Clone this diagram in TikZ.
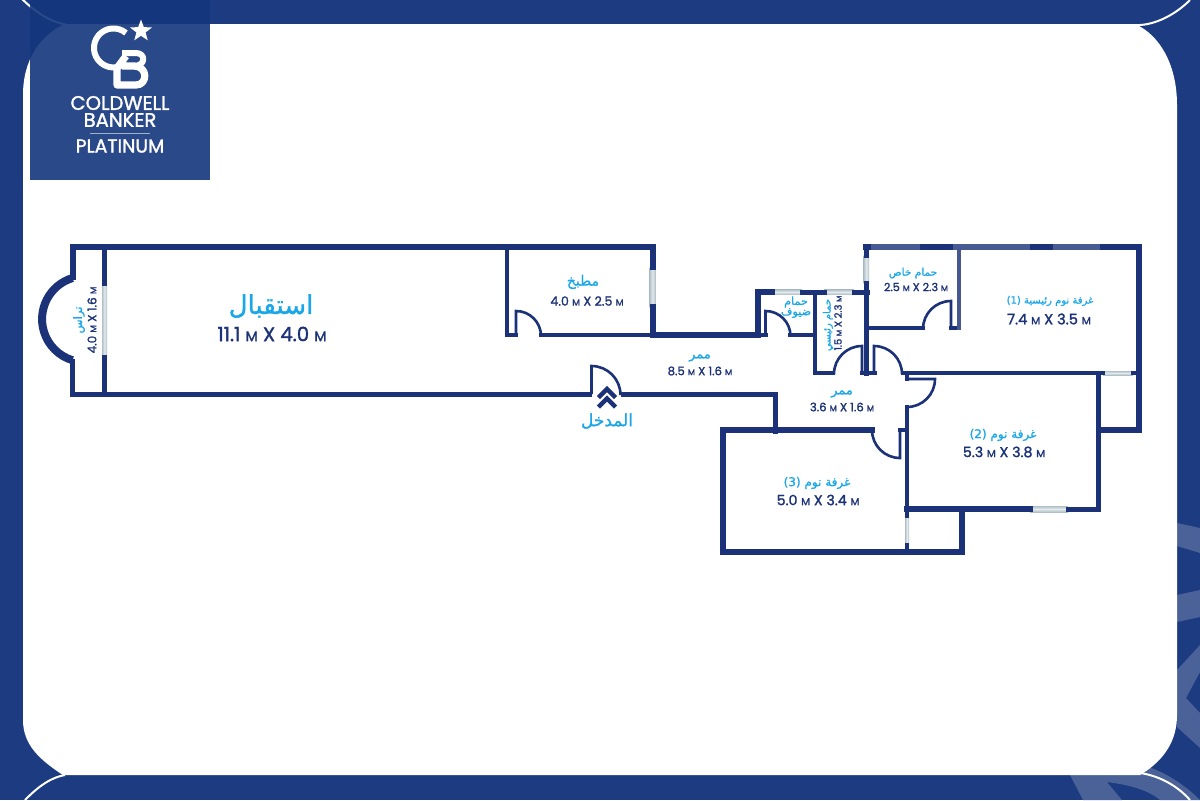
\documentclass[tikz,border=0pt]{standalone}
\usepackage{fontspec}
\setmainfont{Poppins}
\newfontfamily\arabicfont[Script=Arabic,FakeBold=1.0]{DejaVu Sans}
\newfontfamily\sizefont[FakeBold=1.5]{Poppins}
\usetikzlibrary{shapes.geometric}
\TeXXeTstate=1
\definecolor{framecol}{HTML}{1C3B80}
\definecolor{bandcol}{HTML}{4A6298}
\definecolor{logocol}{HTML}{13367D}
\definecolor{wallcol}{HTML}{1C3278}
\definecolor{labelcol}{HTML}{1AA7E8}
\definecolor{panecol}{HTML}{AFC0C8}
\newcommand{\artext}[1]{{\arabicfont\beginR #1\endR}}
\newcommand{\unitm}{{\scalebox{0.72}{M}}}
\newcommand{\sizetext}[2]{{\sizefont #1 \unitm{} X #2 \unitm}}
\tikzset{
    wallthick/.style={draw=wallcol, line width=3pt, line cap=rect},
    wallmid/.style={draw=wallcol, line width=2.5pt, line cap=rect},
    wallthin/.style={draw=wallcol, line width=2pt, line cap=rect},
    doorleaf/.style={draw=wallcol, line width=1.3pt},
    winh/.style={top color=panecol, bottom color=panecol, middle color=panecol!35!white},
    winv/.style={left color=panecol, right color=panecol, middle color=panecol!35!white},
    roomname/.style={text=labelcol, inner sep=0pt},
    roomsize/.style={text=wallcol, inner sep=0pt, font=\fontsize{6}{7}\selectfont},
    logotext/.style={text=white, inner sep=0pt, font=\fontsize{9.8}{10}\selectfont\sizefont}
}
\begin{document}
\begin{tikzpicture}[x=0.5pt,y=-0.5pt]
        \useasboundingbox (0,0) rectangle (1200,800);
        % Frame and watermark bands
        \fill[framecol] (0,0) rectangle (1200,800);
        \fill[bandcol] (1177,523) -- (1200,528) -- (1200,553) -- (1177,546) -- cycle;
        \fill[bandcol] (1177,595) -- (1200,590) -- (1200,617) -- (1177,622) -- cycle;
        \fill[bandcol] (1177,670) -- (1200,645) -- (1200,672) -- (1186,698) -- (1200,713) -- (1200,748) -- (1177,727) -- cycle;
        \fill[bandcol] (1070,775) -- (1083,800) -- (1122,800) -- (1107,782) .. controls (1130,785) and (1148,790) .. (1160,800) -- (1200,800) .. controls (1185,785) and (1165,772) .. (1148,767) -- cycle;
        % White panel
        \fill[white] (65,24) -- (1135,24) .. controls (1160,35) and (1177,65) .. (1177,105) -- (1177,715)
            .. controls (1177,740) and (1165,760) .. (1140,775) -- (63,775)
            .. controls (40,760) and (23,745) .. (23,720) -- (23,95)
            .. controls (23,60) and (40,35) .. (65,24) -- cycle;
        \draw[white, line width=1pt] (1135,25) .. controls (1150,26) and (1172,18) .. (1190,0);
        \draw[white, line width=1pt] (1140,773) .. controls (1155,775) and (1175,783) .. (1190,800);
        \draw[white, line width=1pt] (25,800) .. controls (35,790) and (48,778) .. (65,775);
        \draw[white, line width=1pt] (20,-3) .. controls (35,12) and (50,22) .. (68,25);
        % Logo
        \fill[logocol, fill opacity=0.9] (30,0) rectangle (210,180);
        \draw[white, line width=3pt] (126,33) arc[start angle=-50, end angle=-310, radius=19.5];
        \draw[white, line width=3.6pt, line join=round] (126,56) -- (117,68) -- (117,85) -- (136,85)
            .. controls (148,85) and (148,66) .. (134,66) -- (122,66);
        \draw[white, line width=3pt, line join=round] (122,53) -- (136,53) .. controls (146,53) and (146,66) .. (134,66);
        \node[star, star points=5, star point ratio=2.4, fill=white, inner sep=0pt, minimum size=11.5pt] (logostar) at (141,31) {};
        \node[logotext] (coldwell) at (120,103) {COLDWELL};
        \node[logotext] (banker) at (120,120) {BANKER};
        \draw[white!60!logocol, line width=0.6pt] (90,133.5) -- (150,133.5);
        \node[logotext, font=\fontsize{9.4}{10}\selectfont\sizefont] (platinum) at (120,146) {PLATINUM};
        % Windows
        \fill[winv] (102,283) rectangle (107,357);
        \fill[winv] (649.5,267) rectangle (655.5,307);
        \fill[winh] (772,289.5) rectangle (802,294.5);
        \fill[winh] (824,289.5) rectangle (854,294.5);
        \fill[winv] (863.5,255) rectangle (869,283);
        \fill[winh] (1103,371) rectangle (1133,375);
        \fill[winh] (1030,506) rectangle (1068,512);
        \fill[winv] (905,516) rectangle (909,545);
        % Outer walls
        \draw[wallthick] (72.5,277) -- (72.5,247) -- (652.5,247) -- (652.5,267);
        \draw[wallthick] (652.5,307) -- (652.5,334.5) -- (757.5,334.5) -- (757.5,292) -- (772,292);
        \draw[wallmid] (72.5,361) -- (72.5,394.5) -- (589,394.5);
        \draw[wallmid] (623,394.5) -- (775,394.5) -- (775,431);
        \draw[wallthick, line width=4pt, line cap=butt] (72.5,278) arc[start angle=253, end angle=107, radius=43];
        \draw[wallthick] (866,247) -- (1138.5,247) -- (1138.5,430) -- (1098.5,430);
        \draw[wallthick] (872,430) -- (723,430) -- (723,552) -- (962,552) -- (962,509);
        % Lighter stretches of the top wall
        \fill[wallcol!80!white] (871,244) rectangle (920,250);
        \fill[wallcol!80!white] (953,244) rectangle (1030,250);
        \fill[wallcol!80!white] (1053,244) rectangle (1100,250);
        % Inner walls
        \draw[wallmid] (104.5,250) -- (104.5,283);
        \draw[wallmid] (104.5,357) -- (104.5,394);
        \draw[wallthin] (507,247) -- (507,335) -- (516,335);
        \draw[wallthin] (541,335) -- (652,335);
        \draw[wallthin] (757,335) -- (766,335);
        \draw[wallthin] (790,335) -- (815,335);
        \draw[wallmid] (802,292) -- (824,292);
        \draw[wallmid] (854,292) -- (867,292);
        \draw[wallthin] (815,292) -- (815,373) -- (833,373);
        \draw[wallthin] (862,373) -- (875,373);
        \draw[wallmid] (866.5,247) -- (866.5,255);
        \draw[wallmid] (866.5,283) -- (866.5,373);
        \draw[wallthin] (869,328) -- (923,328);
        \draw[wallthin] (951,328) -- (959,328);
        \draw[wallthin, draw=wallcol!82!white] (959,250) -- (959,328);
        \draw[wallthin] (903,373) -- (1103,373);
        \draw[wallthin] (1133,373) -- (1136,373);
        \draw[wallmid] (1098.5,373) -- (1098.5,509) -- (1068,509);
        \draw[wallthick] (1030,509) -- (907,509);
        \draw[wallthin] (907,373) -- (907,379);
        \draw[wallthin] (907,407) -- (907,516);
        \draw[wallthin] (907,545) -- (907,552);
        \draw[wallthin] (900,430) -- (907,430);
        % Doors
        \draw[doorleaf] (516,335) -- (516,311) arc[start angle=-90, end angle=0, radius=25];
        \draw[doorleaf] (765.5,335) -- (765.5,311) arc[start angle=-90, end angle=0, radius=25];
        \draw[doorleaf] (591.5,394) -- (591.5,366) arc[start angle=-90, end angle=0, radius=29];
        \draw[doorleaf] (862,373) -- (862,346) arc[start angle=-90, end angle=-180, radius=28];
        \draw[doorleaf] (874,373) -- (874,346) arc[start angle=-90, end angle=0, radius=28];
        \draw[doorleaf] (951,328) -- (951,301) arc[start angle=-90, end angle=-180, radius=28];
        \draw[doorleaf] (907,379) -- (935,379) arc[start angle=0, end angle=90, radius=28];
        \draw[doorleaf] (900,431) -- (900,458) arc[start angle=90, end angle=180, radius=28];
        % Entrance mark
        \draw[wallcol, line width=2.2pt] (598.5,397.5) -- (607,389) -- (615.5,397.5);
        \draw[wallcol, line width=2.2pt] (598.5,407) -- (607,398.5) -- (615.5,407);
        \node[roomname, font=\fontsize{8.5}{9}\selectfont] (entry) at (607,421) {\artext{المدخل}};
        % Room labels
        \node[roomname, font=\fontsize{13}{14}\selectfont] (receptionname) at (271,306) {\artext{استقبال}};
        \node[roomsize, font=\fontsize{9.8}{10}\selectfont] (receptionsize) at (272,334) {\sizetext{11.1}{4.0}};
        \node[roomname, rotate=90, font=\fontsize{5.8}{6}\selectfont] (terracename) at (79,320) {\artext{تراس}};
        \node[roomsize, rotate=90] (terracesize) at (92,320) {\sizetext{4.0}{1.6}};
        \node[roomname, font=\fontsize{7}{8}\selectfont] (kitchenname) at (583,282) {\artext{مطبخ}};
        \node[roomsize, font=\fontsize{6.3}{7}\selectfont] (kitchensize) at (587,301) {\sizetext{4.0}{2.5}};
        \node[roomname, font=\fontsize{6.5}{7}\selectfont] (hallname) at (700,358) {\artext{ممر}};
        \node[roomsize, font=\fontsize{5.8}{7}\selectfont] (hallsize) at (700,371) {\sizetext{8.5}{1.6}};
        \node[roomname, font=\fontsize{5.6}{6}\selectfont] (guestnameA) at (796,302) {\artext{حمام}};
        \node[roomname, font=\fontsize{5.6}{6}\selectfont] (guestnameB) at (796,313) {\artext{ضيوف}};
        \node[roomname, rotate=90, font=\fontsize{5}{6}\selectfont] (mainbathname) at (828,325) {\artext{حمام رئيسي}};
        \node[roomsize, rotate=90, font=\fontsize{5}{6}\selectfont] (mainbathsize) at (838,323) {\sizetext{1.5}{2.3}};
        \node[roomname, font=\fontsize{5.3}{6}\selectfont] (privatename) at (913,273) {\artext{حمام خاص}};
        \node[roomsize, font=\fontsize{5.6}{6}\selectfont] (privatesize) at (916,287) {\sizetext{2.5}{2.3}};
        \node[roomname, font=\fontsize{6.5}{7}\selectfont] (corridorname) at (842,394) {\artext{ممر}};
        \node[roomsize, font=\fontsize{5.8}{7}\selectfont] (corridorsize) at (842,407) {\sizetext{3.6}{1.6}};
        \node[roomname, font=\fontsize{5}{6}\selectfont] (bedonename) at (1050,301) {\artext{غرفة نوم رئيسية \beginL(1)\endL}};
        \node[roomsize, font=\fontsize{7.3}{8}\selectfont] (bedonesize) at (1049,319) {\sizetext{7.4}{3.5}};
        \node[roomname, font=\fontsize{6}{7}\selectfont] (bedtwoname) at (1003,435) {\artext{غرفة نوم \beginL(2)\endL}};
        \node[roomsize, font=\fontsize{7.1}{8}\selectfont] (bedtwosize) at (1004,452) {\sizetext{5.3}{3.8}};
        \node[roomname, font=\fontsize{6}{7}\selectfont] (bedthreename) at (817,483) {\artext{غرفة نوم \beginL(3)\endL}};
        \node[roomsize, font=\fontsize{7.1}{8}\selectfont] (bedthreesize) at (818,500) {\sizetext{5.0}{3.4}};
    \end{tikzpicture}
\end{document}
